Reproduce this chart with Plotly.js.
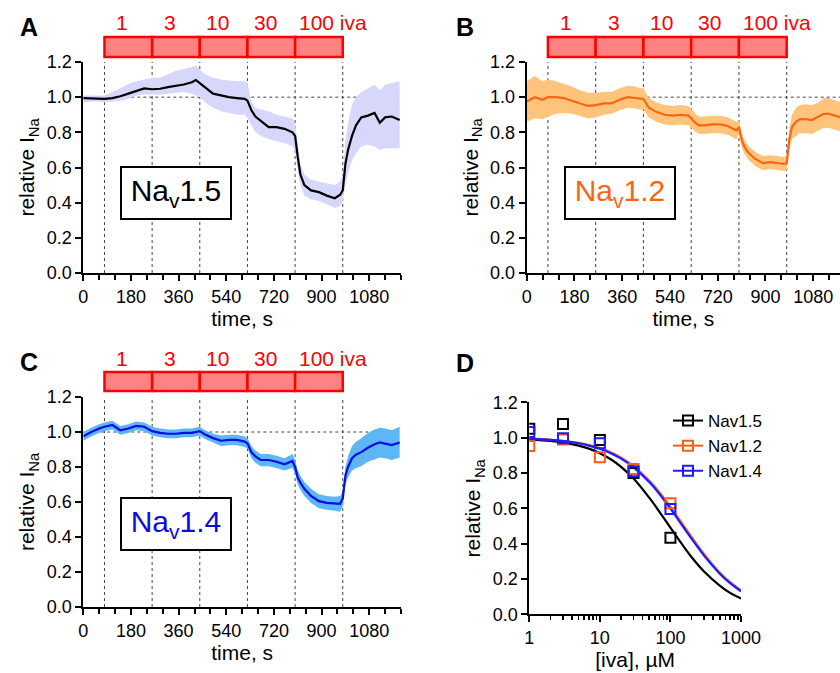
<!DOCTYPE html>
<html>
<head>
<meta charset="utf-8">
<script src="https://cdn.plot.ly/plotly-3.0.1.min.js"></script>
<style>html,body{margin:0;padding:0;background:#fff;}#chart{width:840px;height:673px;}</style>
</head>
<body>
<div id="chart"></div>
<script>
// ---------- data ----------
const switchTimes = [80, 260, 440, 620, 800, 980];
const doses = ['1', '3', '10', '30', '100 iva'];
const channelNames = ['Nav1.5', 'Nav1.2', 'Nav1.4'];
const channelLabels = ['Na<sub>v</sub>1.5', 'Na<sub>v</sub>1.2', 'Na<sub>v</sub>1.4'];

const timeS = [0,30,60,80,110,140,170,200,230,260,290,320,350,380,410,425,440,460,490,520,550,580,610,620,635,650,670,700,730,760,790,800,810,820,835,860,890,920,950,970,980,990,1000,1015,1030,1050,1075,1100,1120,1140,1165,1195];

const meanA = [0.995,0.993,0.99,0.99,0.995,1.005,1.02,1.035,1.05,1.045,1.048,1.057,1.065,1.072,1.085,1.097,1.08,1.055,1.02,1.01,1.0,0.995,0.99,0.98,0.925,0.89,0.865,0.83,0.83,0.82,0.8,0.78,0.66,0.56,0.5,0.47,0.46,0.44,0.425,0.445,0.47,0.62,0.7,0.78,0.84,0.885,0.895,0.91,0.855,0.885,0.89,0.87];
const upperA = [1.01,1.01,1.01,1.01,1.03,1.05,1.075,1.09,1.1,1.11,1.11,1.13,1.15,1.16,1.17,1.18,1.16,1.13,1.11,1.10,1.095,1.09,1.09,1.08,0.97,0.94,0.93,0.92,0.90,0.89,0.88,0.85,0.72,0.62,0.56,0.53,0.52,0.51,0.5,0.52,0.56,0.75,0.85,0.96,1.0,1.03,1.05,1.07,1.04,1.07,1.08,1.09];
const lowerA = [0.97,0.975,0.975,0.97,0.975,0.98,0.99,1.01,1.015,1.015,1.015,1.02,1.025,1.03,1.02,1.01,1.0,0.97,0.94,0.92,0.91,0.90,0.90,0.88,0.84,0.80,0.78,0.76,0.75,0.74,0.72,0.70,0.58,0.50,0.44,0.42,0.41,0.39,0.37,0.38,0.41,0.50,0.57,0.64,0.68,0.72,0.73,0.72,0.70,0.71,0.71,0.71];

const meanB = [0.975,1.0,0.985,1.0,1.0,0.995,0.98,0.965,0.95,0.955,0.965,0.965,0.985,1.0,0.995,0.99,0.99,0.94,0.915,0.9,0.895,0.9,0.895,0.88,0.855,0.84,0.84,0.845,0.845,0.835,0.81,0.83,0.76,0.72,0.685,0.65,0.625,0.63,0.625,0.62,0.625,0.76,0.83,0.86,0.875,0.875,0.87,0.89,0.905,0.905,0.895,0.88];
const upperB = [1.09,1.12,1.09,1.1,1.09,1.075,1.06,1.04,1.025,1.025,1.03,1.03,1.05,1.065,1.06,1.05,1.05,0.995,0.97,0.955,0.95,0.955,0.95,0.935,0.905,0.89,0.89,0.895,0.895,0.885,0.86,0.87,0.8,0.76,0.725,0.69,0.665,0.67,0.665,0.66,0.665,0.82,0.9,0.94,0.955,0.96,0.955,0.97,0.995,0.995,0.98,0.965];
const lowerB = [0.86,0.88,0.875,0.89,0.905,0.91,0.905,0.895,0.88,0.885,0.9,0.905,0.925,0.94,0.935,0.93,0.93,0.885,0.86,0.845,0.84,0.845,0.84,0.825,0.805,0.79,0.79,0.795,0.795,0.785,0.76,0.79,0.72,0.68,0.645,0.61,0.585,0.59,0.585,0.58,0.585,0.7,0.76,0.78,0.795,0.795,0.79,0.81,0.825,0.825,0.815,0.8];

const meanC = [0.975,1.0,1.02,1.03,1.04,1.01,1.02,1.035,1.03,1.005,0.995,0.99,0.99,0.995,0.995,1.0,1.005,0.985,0.965,0.95,0.955,0.955,0.945,0.935,0.885,0.86,0.84,0.84,0.83,0.815,0.835,0.8,0.74,0.71,0.675,0.635,0.605,0.595,0.59,0.59,0.62,0.75,0.8,0.85,0.87,0.885,0.91,0.93,0.94,0.935,0.925,0.94];
const upperC = [1.0,1.025,1.045,1.055,1.065,1.035,1.045,1.06,1.055,1.03,1.02,1.015,1.015,1.02,1.02,1.025,1.03,1.01,0.99,0.98,0.985,0.985,0.975,0.965,0.92,0.895,0.875,0.875,0.865,0.85,0.875,0.84,0.78,0.75,0.715,0.675,0.645,0.635,0.63,0.635,0.665,0.8,0.86,0.92,0.945,0.965,0.995,1.015,1.025,1.02,1.01,1.03];
const lowerC = [0.95,0.975,0.995,1.005,1.015,0.985,0.995,1.01,1.005,0.98,0.97,0.965,0.965,0.97,0.97,0.975,0.98,0.96,0.94,0.92,0.925,0.925,0.915,0.905,0.85,0.825,0.805,0.805,0.795,0.78,0.795,0.76,0.70,0.67,0.635,0.595,0.565,0.555,0.55,0.545,0.575,0.7,0.74,0.78,0.795,0.805,0.83,0.845,0.855,0.85,0.84,0.855];

// panel D: concentration-response
const concData = [1, 3, 10, 30, 100];
const respNav15 = [1.05, 1.077, 0.987, 0.80, 0.434];
const respNav12 = [0.953, 0.99, 0.889, 0.823, 0.628];
const respNav14 = [1.032, 0.996, 0.968, 0.81, 0.596];
const fitConc = [1,2,3,5,7,10,15,20,30,50,70,100,150,200,300,500,700,1000];
const fitNav15 = [0.99,0.981,0.972,0.955,0.938,0.912,0.872,0.834,0.768,0.66,0.58,0.49,0.39,0.323,0.242,0.162,0.121,0.09];
const fitNav12 = [0.994,0.988,0.982,0.97,0.958,0.941,0.913,0.887,0.838,0.757,0.69,0.608,0.508,0.437,0.341,0.237,0.182,0.135];
const fitNav14 = [0.993,0.987,0.98,0.968,0.955,0.937,0.908,0.881,0.832,0.749,0.681,0.598,0.498,0.427,0.332,0.23,0.176,0.13];

// ---------- styling ----------
const W = 840, H = 673;
const px = v => v / W;
const py = v => 1 - v / H;
const FONT = 'Liberation Sans, Arial, Helvetica, sans-serif';
const lineCols = ['#000000', '#ff6410', '#0c0ce0'];
const bandCols = ['#d7d7fb', '#fec47c', '#5db6f6'];
const dCols = ['#000000', '#ff5a1e', '#1c1cff'];

const panels = [
  {mean: meanA, up: upperA, lo: lowerA, xa: 'x', ya: 'y', c: 0},
  {mean: meanB, up: upperB, lo: lowerB, xa: 'x2', ya: 'y2', c: 1},
  {mean: meanC, up: upperC, lo: lowerC, xa: 'x3', ya: 'y3', c: 2}
];

const traces = [];
panels.forEach(p => {
  traces.push({x: timeS, y: p.lo, xaxis: p.xa, yaxis: p.ya, mode: 'lines', line: {width: 0, color: bandCols[p.c]}, showlegend: false, hoverinfo: 'skip'});
  traces.push({x: timeS, y: p.up, xaxis: p.xa, yaxis: p.ya, mode: 'lines', fill: 'tonexty', fillcolor: bandCols[p.c], line: {width: 0, color: bandCols[p.c]}, showlegend: false, hoverinfo: 'skip'});
  traces.push({x: timeS, y: p.mean, xaxis: p.xa, yaxis: p.ya, mode: 'lines', line: {width: 2.2, color: lineCols[p.c]}, showlegend: false});
});

// D fits
[fitNav15, fitNav12, fitNav14].forEach((f, i) => {
  traces.push({x: fitConc, y: f, xaxis: 'x4', yaxis: 'y4', mode: 'lines', line: {width: 2.2, color: dCols[i], shape: 'spline'}, showlegend: false});
});
// D data (each point isolated so the legend shows line+marker)
[respNav15, respNav12, respNav14].forEach((r, i) => {
  const xs = [], ys = [];
  concData.forEach((c, k) => { xs.push(c, c); ys.push(r[k], null); });
  traces.push({x: xs, y: ys, xaxis: 'x4', yaxis: 'y4', mode: 'lines+markers', connectgaps: false, name: channelNames[i],
    line: {width: 2, color: dCols[i]}, marker: {symbol: 'square-open', size: 10, line: {width: 2, color: dCols[i]}, color: dCols[i]}});
});

// ---------- axes ----------
const tickCommon = {showline: true, linecolor: '#000', linewidth: 2, ticks: 'outside', ticklen: 6, tickwidth: 2, tickcolor: '#000',
  showgrid: false, zeroline: false, tickfont: {size: 18, color: '#000', family: FONT}};
function timeAxis(dom, anchor, maxT) {
  return Object.assign({}, tickCommon, {domain: dom, anchor: anchor, range: [0, maxT], tick0: 0, dtick: 180,
    minor: {dtick: 60, tick0: 0, ticks: 'outside', ticklen: 5, tickwidth: 2, tickcolor: '#000'},
    title: {text: 'time, s', font: {size: 21, family: FONT}, standoff: 4}});
}
function yAxis(dom, anchor) {
  return Object.assign({}, tickCommon, {domain: dom, anchor: anchor, range: [0, 1.2], dtick: 0.2, tick0: 0, tickformat: '.1f',
    title: {text: 'relative I<sub>Na</sub>', font: {size: 21, family: FONT}, standoff: 6}});
}

const domXA = [px(83.3), px(401)];
const domXB = [px(526.7), 1];
const domYTop = [py(273), py(62)];
const domYBot = [py(607), py(397)];

const layout = {
  width: W, height: H,
  margin: {l: 0, r: 0, t: 0, b: 0, pad: 0},
  paper_bgcolor: '#fff', plot_bgcolor: 'rgba(0,0,0,0)',
  font: {family: FONT, size: 18, color: '#000'},
  xaxis: timeAxis(domXA, 'y', 1200),
  yaxis: yAxis(domYTop, 'x'),
  xaxis2: timeAxis(domXB, 'y2', 1181),
  yaxis2: yAxis(domYTop, 'x2'),
  xaxis3: timeAxis(domXA, 'y3', 1200),
  yaxis3: yAxis(domYBot, 'x3'),
  xaxis4: Object.assign({}, tickCommon, {type: 'log', domain: [px(529.3), px(741)], anchor: 'y4', range: [0, 3], dtick: 1,
    minor: {dtick: 'D1', ticks: 'outside', ticklen: 4, tickwidth: 1.5, tickcolor: '#000'},
    title: {text: '[iva], µM', font: {size: 21, family: FONT}, standoff: 4}}),
  yaxis4: yAxis([py(614.3), py(402.3)], 'x4'),
  showlegend: true,
  legend: {x: px(668), y: py(403), xanchor: 'left', yanchor: 'top', traceorder: 'normal', font: {size: 17, family: FONT}, bgcolor: 'rgba(0,0,0,0)', tracegroupgap: 0},
  shapes: [], annotations: []
};

// dotted guide lines and drug bars
const timePanels = [
  {xa: 'x', ya: 'y', barTop: 37, barBot: 57, labelY: 23, maxT: 1200},
  {xa: 'x2', ya: 'y2', barTop: 37, barBot: 57, labelY: 23, maxT: 1181},
  {xa: 'x3', ya: 'y3', barTop: 372, barBot: 391, labelY: 358, maxT: 1200}
];
timePanels.forEach(tp => {
  switchTimes.forEach(t => {
    layout.shapes.push({type: 'line', xref: tp.xa, yref: tp.ya, x0: t, x1: t, y0: 0, y1: 1.2, layer: 'below',
      line: {color: '#444', width: 1, dash: 'dot'}});
  });
  layout.shapes.push({type: 'line', xref: tp.xa, yref: tp.ya, x0: 0, x1: tp.maxT, y0: 1, y1: 1, layer: 'below',
    line: {color: '#444', width: 1, dash: 'dot'}});
  doses.forEach((d, i) => {
    const x0 = switchTimes[i], x1 = switchTimes[i + 1];
    layout.shapes.push({type: 'rect', xref: tp.xa, yref: 'paper', x0: x0, x1: x1, y0: py(tp.barBot), y1: py(tp.barTop),
      fillcolor: '#ff8282', line: {color: '#ff0000', width: 2.5}});
    const last = i === doses.length - 1;
    layout.annotations.push({xref: tp.xa, yref: 'paper', x: last ? x0 + 8 : (x0 + x1) / 2 - 22, y: py(tp.labelY),
      xanchor: last ? 'left' : 'center', yanchor: 'middle', text: d, showarrow: false,
      font: {size: 21, color: '#ff0000', family: FONT}});
  });
});

// panel letters
[['A', 29, 27], ['B', 465, 27], ['C', 29, 362], ['D', 465, 363]].forEach(l => {
  layout.annotations.push({xref: 'paper', yref: 'paper', x: px(l[1]), y: py(l[2]), xanchor: 'center', yanchor: 'middle',
    text: '<b>' + l[0] + '</b>', showarrow: false, font: {size: 25, color: '#000', family: FONT}});
});

// channel name boxes
[[176, 193.5, 0], [619.5, 193.5, 1], [176, 524, 2]].forEach(b => {
  layout.annotations.push({xref: 'paper', yref: 'paper', x: px(b[0]), y: py(b[1]), xanchor: 'center', yanchor: 'middle',
    text: channelLabels[b[2]], showarrow: false, font: {size: 30, color: lineCols[b[2]], family: FONT},
    bordercolor: '#000', borderwidth: 2, bgcolor: '#fff', width: 106, height: 48, borderpad: 1});
});

Plotly.newPlot('chart', traces, layout, {displayModeBar: false, staticPlot: true});
</script>
</body>
</html>
